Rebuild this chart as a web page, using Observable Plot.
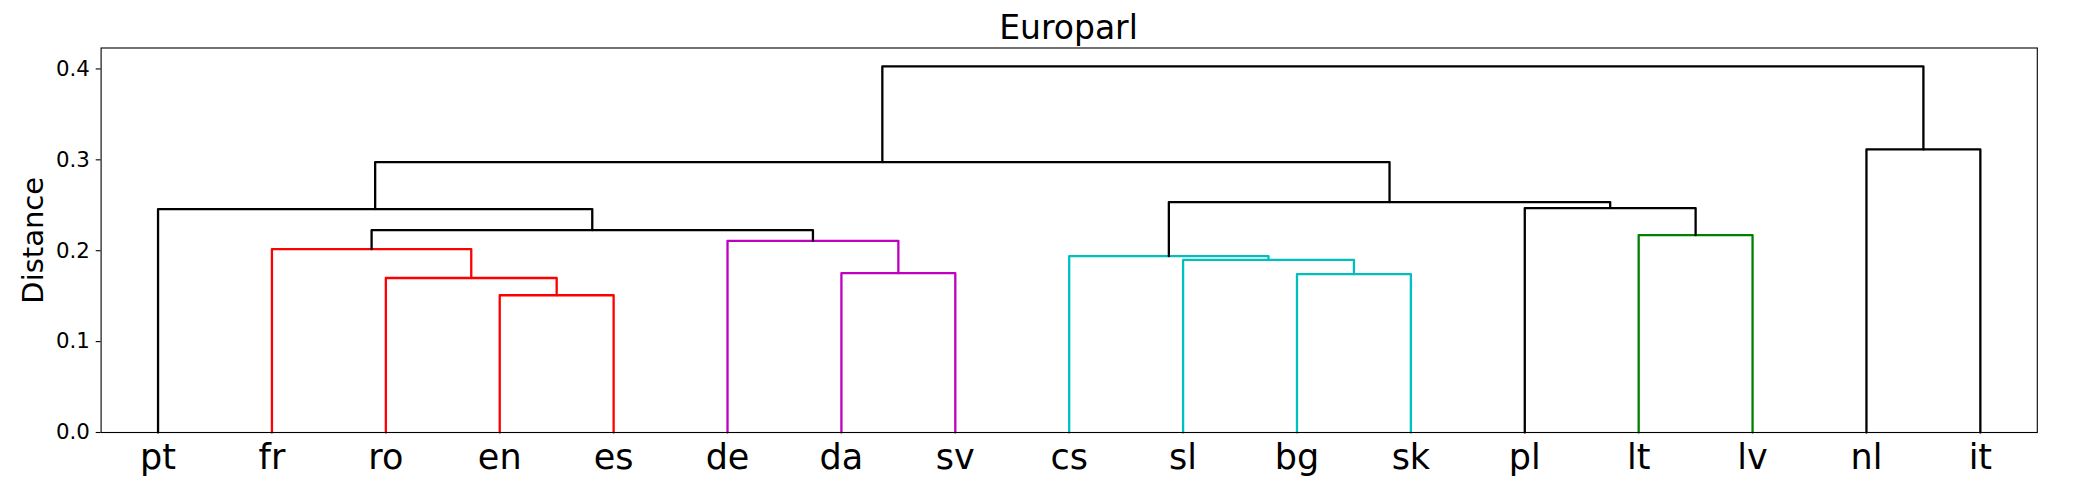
<!DOCTYPE html>
<html>
<head>
<meta charset="utf-8">
<script src="https://cdn.jsdelivr.net/npm/d3@7"></script>
<script src="https://cdn.jsdelivr.net/npm/@observablehq/plot@0.6"></script>
<style>
  html, body { margin: 0; padding: 0; background: #fff; }
  #title {
    box-sizing: border-box; width: 2075px; height: 44px; padding-top: 11px; padding-left: 62px;
    font-family: "DejaVu Sans", sans-serif; font-size: 33px; line-height: 33px; text-align: center; color: #000;
  }
</style>
</head>
<body>
<div id="title">Europarl</div>
<div id="chart"></div>
<script>
// Leaves in dendrogram order
const leaves = ["pt","fr","ro","en","es","de","da","sv","cs","sl","bg","sk","pl","lt","lv","nl","it"];
// Linkage (scipy style): cluster 17+k merges mergeLeft[k] and mergeRight[k]
const mergeLeft   = [3, 2, 1, 6, 5, 19, 0, 10, 9, 8, 13, 12, 26, 23, 15, 30];
const mergeRight  = [4, 17, 18, 7, 20, 21, 22, 11, 24, 25, 14, 27, 28, 29, 16, 31];
const mergeHeight = [0.151, 0.170, 0.2017, 0.1753, 0.2109, 0.2226, 0.2458, 0.1742, 0.1899, 0.194, 0.2171, 0.2469, 0.2535, 0.2975, 0.3114, 0.4029];
const mergeColor  = ["r","r","r","m","m","k","k","c","c","c","g","k","k","k","k","k"];
const palette = {r: "#ff0000", m: "#bf00bf", c: "#00bfbf", g: "#008000", k: "#000000"};
const yTicks = [0, 0.1, 0.2, 0.3, 0.4];
const titleText = "Europarl";
const yLabel = "Distance";

// dendrogram layout (leaf i at 10*i + 5, as scipy does)
const n = leaves.length;
const pos = leaves.map((_, i) => 10 * i + 5);
const hgt = leaves.map(() => 0);
const segs = [];
mergeLeft.forEach((l, k) => {
  const r = mergeRight[k], h = mergeHeight[k];
  const id = n + k;
  const color = palette[mergeColor[k]];
  segs.push({id, x: pos[l], y: hgt[l], color});
  segs.push({id, x: pos[l], y: h, color});
  segs.push({id, x: pos[r], y: h, color});
  segs.push({id, x: pos[r], y: hgt[r], color});
  pos[id] = (pos[l] + pos[r]) / 2;
  hgt[id] = h;
});
const leafPos = leaves.map((_, i) => 10 * i + 5);
const yMax = d3.max(mergeHeight) * 1.05;

document.getElementById("title").textContent = titleText;

const plot = Plot.plot({
  width: 2075,
  height: 443,
  marginLeft: 100.6,
  marginRight: 38.2,
  marginTop: 3.5,
  marginBottom: 55,
  style: {fontFamily: "DejaVu Sans, sans-serif", background: "#fff", color: "#000"},
  x: {domain: [0, n * 10]},
  y: {domain: [0, yMax]},
  color: {type: "identity"},
  marks: [
    Plot.line(segs, {x: "x", y: "y", z: "id", stroke: "color", strokeWidth: 2.3, strokeLinejoin: "round"}),
    Plot.frame({stroke: "#000", strokeWidth: 1.1}),
    Plot.axisX({ticks: leafPos, tickFormat: d => leaves[Math.round((d - 5) / 10)], tickSize: 0, tickPadding: 11.5, fontSize: 35, label: null}),
    Plot.axisY({ticks: yTicks, tickFormat: d3.format(".1f"), tickSize: 4.9, tickPadding: 6.4, fontSize: 21.3, strokeWidth: 1.1, label: null}),
    Plot.text([yLabel], {frameAnchor: "left", textAnchor: "middle", lineAnchor: "middle", rotate: -90, dx: -67, fontSize: 29, fill: "#000"})
  ]
});
document.getElementById("chart").appendChild(plot);
</script>
</body>
</html>
